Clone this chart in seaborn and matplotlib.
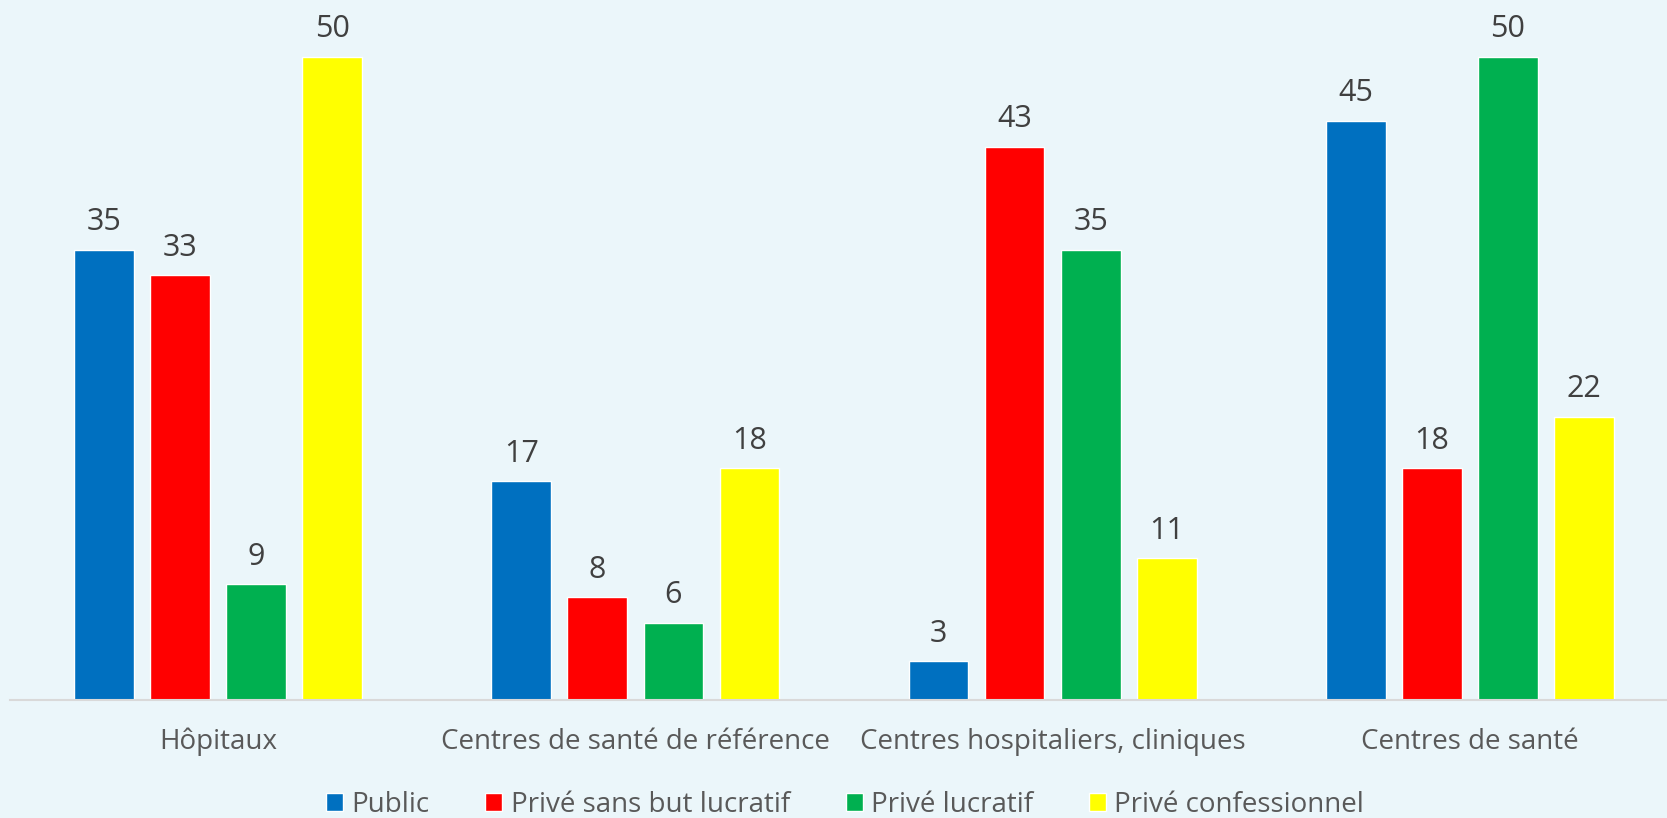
import numpy as np
import pandas as pd
import seaborn as sns
import matplotlib
matplotlib.use("Agg")
import matplotlib.pyplot as plt

# data
categories = ["Hôpitaux", "Centres de santé de référence",
              "Centres hospitaliers, cliniques", "Centres de santé"]
series = ["Public", "Privé sans but lucratif", "Privé lucratif", "Privé confessionnel"]
public = [35, 17, 3, 45]
prive_sbl = [33, 8, 43, 18]
prive_lucratif = [9, 6, 35, 50]
prive_confessionnel = [50, 18, 11, 22]
colors = ["#0070C0", "#FF0000", "#00B050", "#FFFF00"]

bg = "#EBF6FA"

df = pd.DataFrame({
    "categorie": categories * 4,
    "secteur": np.repeat(series, 4),
    "valeur": public + prive_sbl + prive_lucratif + prive_confessionnel,
})

sns.set_theme(style="white")
plt.rcParams["font.family"] = ["Open Sans", "DejaVu Sans"]

fig = plt.figure(figsize=(16.67, 8.18), dpi=100, facecolor=bg)
ax = fig.add_axes([0.0057, 0.1443, 1.0012, 0.8557])
ax.set_facecolor(bg)

sns.barplot(data=df, x="categorie", y="valeur", hue="secteur",
            hue_order=series, order=categories, palette=colors,
            width=0.73, gap=0.216, saturation=1, ax=ax, legend=True)

for c in ax.containers:
    ax.bar_label(c, padding=9, fontsize=22, color="#404040")

ax.set_ylim(0, 54.4)
ax.set_xlim(-0.5, 3.5)
ax.set_xlabel("")
ax.set_ylabel("")
ax.set_yticks([])
for s in ["top", "right", "left"]:
    ax.spines[s].set_visible(False)
ax.spines["bottom"].set_color("#D9D9D9")
ax.spines["bottom"].set_linewidth(1.5)
ax.tick_params(axis="x", length=0, pad=20, labelsize=20, labelcolor="#595959")

handles, labels = ax.get_legend_handles_labels()
ax.legend_.remove()
fig.legend(handles, labels, loc="lower center", bbox_to_anchor=(0.507, -0.032),
           ncol=4, frameon=False, fontsize=20, labelcolor="#595959",
           handlelength=0.62, handleheight=0.62, handletextpad=0.3,
           columnspacing=2.0)

fig.savefig("out.png", dpi=100, facecolor=bg)
